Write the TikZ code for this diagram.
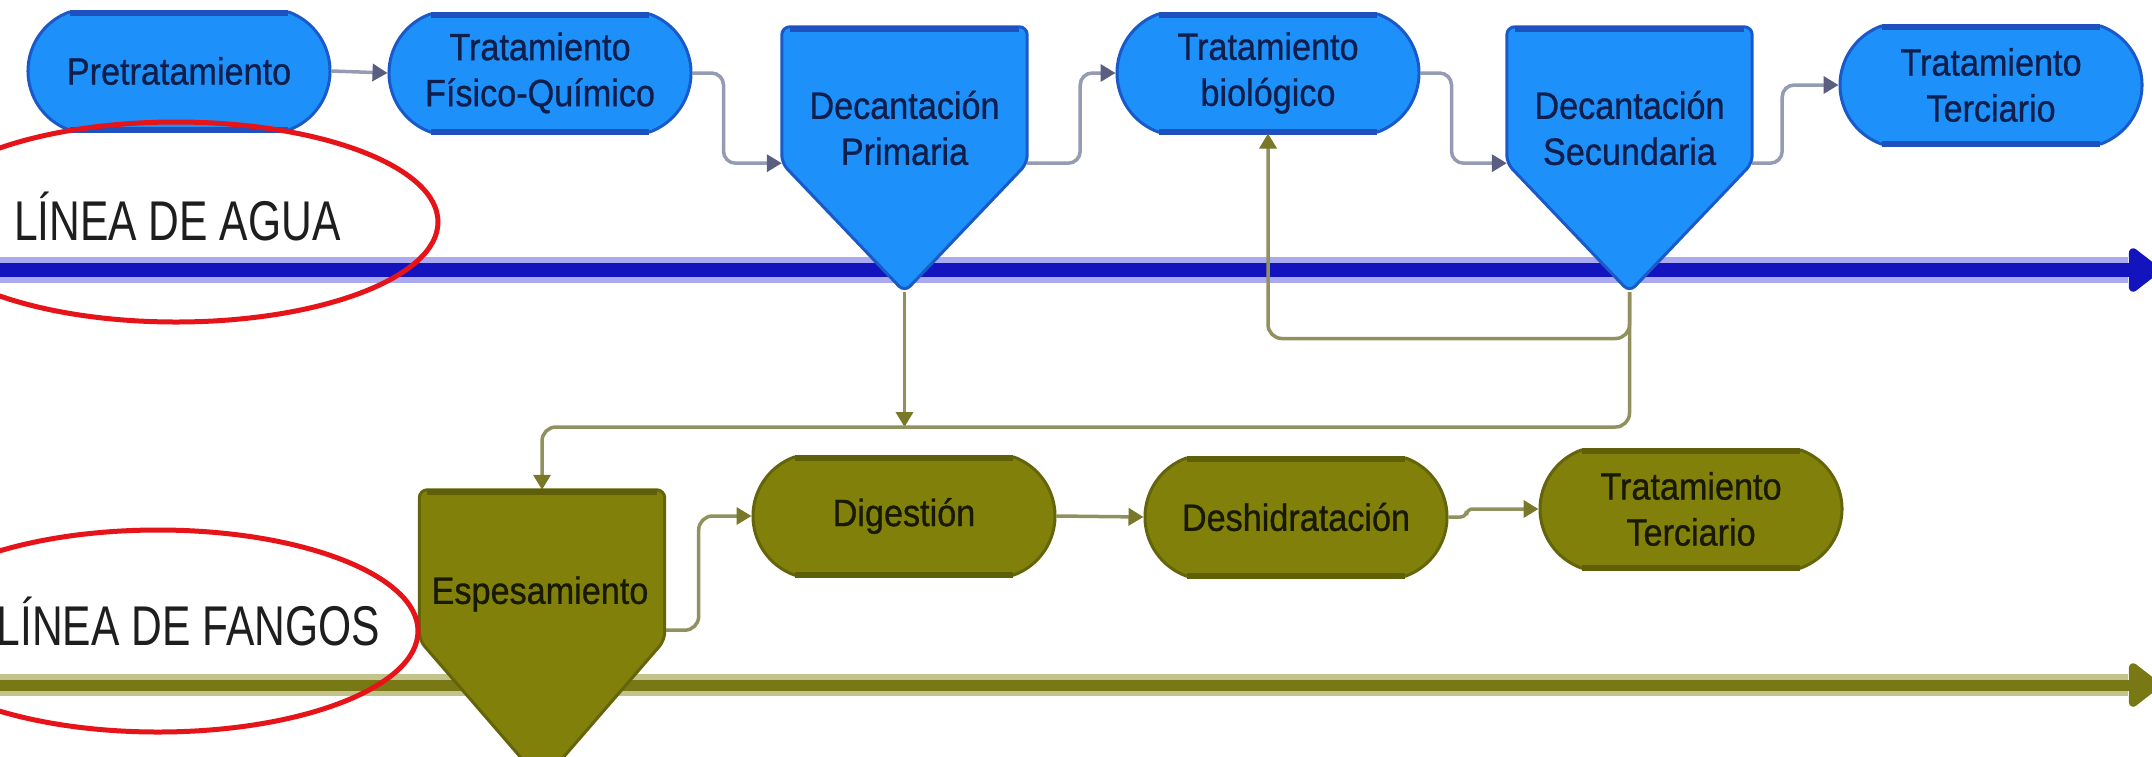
\documentclass[tikz,border=0pt]{standalone}
\usepackage{fontspec}
\usetikzlibrary{shapes.misc,arrows.meta,calc}
\newfontfamily\nodefont[FakeStretch=0.9,FakeBold=0.8]{Liberation Sans}
\newfontfamily\labfont[FakeStretch=0.76]{Liberation Sans}
\definecolor{bfill}{RGB}{30,144,250}
\definecolor{bdraw}{RGB}{25,90,200}
\definecolor{bband}{RGB}{30,80,190}
\definecolor{btext}{RGB}{15,30,75}
\definecolor{ofill}{RGB}{128,128,10}
\definecolor{odraw}{RGB}{100,100,10}
\definecolor{oband}{RGB}{95,95,10}
\definecolor{otext}{RGB}{25,25,0}
\definecolor{bconncol}{RGB}{150,155,180}
\definecolor{bhead}{RGB}{90,95,130}
\definecolor{oconncol}{RGB}{145,145,95}
\definecolor{ohead}{RGB}{120,120,40}
\definecolor{bline}{RGB}{20,20,190}
\definecolor{bhalo}{RGB}{170,170,240}
\definecolor{oline}{RGB}{120,120,20}
\definecolor{ohalo}{RGB}{195,195,140}
\definecolor{redring}{RGB}{230,20,25}
\definecolor{labtext}{RGB}{30,30,30}
\begin{document}
\begin{tikzpicture}[x=1pt,y=-1pt,
  proc/.style={rounded rectangle, rounded rectangle arc length=140, minimum width=302pt, minimum height=118pt, line width=3pt, inner sep=0pt, align=center, font=\nodefont\fontsize{38}{46}\selectfont},
  bproc/.style={proc, fill=bfill, draw=bdraw, text=btext},
  oproc/.style={proc, fill=ofill, draw=odraw, text=otext},
  pentbox/.style={rectangle, minimum width=245pt, inner sep=0pt},
  bshape/.style={fill=bfill, draw=bdraw, line width=3pt, rounded corners=8pt},
  oshape/.style={fill=ofill, draw=odraw, line width=3pt, rounded corners=8pt},
  btxt/.style={align=center, inner sep=0pt, text=btext, font=\nodefont\fontsize{38}{46}\selectfont},
  otxt/.style={align=center, inner sep=0pt, text=otext, font=\nodefont\fontsize{38}{46}\selectfont},
  bconn/.style={draw=bconncol, line width=3.5pt, rounded corners=12pt, -{Triangle[length=15pt,width=17pt,color=bhead]}},
  oconn/.style={draw=oconncol, line width=3.5pt, rounded corners=14pt, -{Triangle[length=15pt,width=17pt,color=ohead]}},
  lab/.style={inner sep=0pt, text=labtext, font=\labfont\fontsize{56}{60}\selectfont},
  ring/.style={draw=redring, line width=5pt}
]
\useasboundingbox (0,0) rectangle (2152,756);
\clip (0,0) rectangle (2152,756);
\fill[white] (0,0) rectangle (2152,756);

% main lines
\coordinate (aguaL) at (-5,270);
\coordinate (aguaH) at (2128,270);
\coordinate (aguaR) at (2160,270);
\coordinate (fangL) at (-5,685);
\coordinate (fangH) at (2128,685);
\coordinate (fangR) at (2160,685);
\draw[line width=26pt, bhalo] (aguaL) -- (aguaH);
\draw[line width=14pt, bline, -{Triangle[length=34pt,width=50pt,round]}] (aguaL) -- (aguaR);
\draw[line width=22pt, ohalo] (fangL) -- (fangH);
\draw[line width=11pt, oline, -{Triangle[length=34pt,width=50pt,round]}] (fangL) -- (fangR);

% upper row nodes
\node[bproc] (pre) at (179,71) {Pretratamiento};
\node[bproc] (fq) at (540,73) {Tratamiento\\Físico-Químico};
\node[bproc] (tb) at (1268,73) {Tratamiento\\biológico};
\node[bproc] (tt1) at (1991,85) {Tratamiento\\Terciario};
\foreach \n in {pre,fq,tb,tt1}{
  \draw[bband, line width=6pt] ($(\n.north)+(-109,2)$) -- ($(\n.north)+(109,2)$);
  \draw[bband, line width=6pt] ($(\n.south)+(-109,-2)$) -- ($(\n.south)+(109,-2)$);
}

\node[pentbox, minimum height=136pt] (dp) at (904.5,95) {};
\coordinate (dpapex) at (904.5,292);
\node[pentbox, minimum height=136pt] (ds) at (1629.5,95) {};
\coordinate (dsapex) at (1629.5,292);

% lower row nodes
\node[oproc] (dig) at (904,516) {Digestión};
\node[oproc] (desh) at (1296,517) {Deshidratación};
\node[oproc] (tt2) at (1691,509) {Tratamiento\\Terciario};
\foreach \n in {dig,desh,tt2}{
  \draw[oband, line width=6pt] ($(\n.north)+(-109,2)$) -- ($(\n.north)+(109,2)$);
  \draw[oband, line width=6pt] ($(\n.south)+(-109,-2)$) -- ($(\n.south)+(109,-2)$);
}
\node[pentbox, minimum height=150pt] (es) at (542,565) {};
\coordinate (esapex) at (542,782);

% connectors upper
\coordinate (bus) at (0,427);
\path (tb.south) ++(0,205) coordinate (rb);
\coordinate (esout) at ($(es.south east)+(0,-10)$);
\draw[bconn] (pre.east) -- (fq.west);
\draw[bconn] (fq.east) -- ++(31,0) |- (dp.south west);
\draw[bconn] (dp.south east) -- ++(53,0) |- (tb.west);
\draw[bconn] (tb.east) -- ++(31,0) |- (ds.south west);
\draw[bconn] (ds.south east) -- ++(30,0) |- (tt1.west);

% connectors lower
\draw[oconn] (dpapex) -- (dpapex |- bus);
\draw[oconn] (dsapex) |- (es.north |- bus) -- (es.north);
\draw[oconn] (dsapex) |- (rb) -- (tb.south);
\draw[oconn] (esout) -- ++(34,0) |- (dig.west);
\draw[oconn] (dig.east) -- (desh.west);
\draw[oconn, rounded corners=6pt] (desh.east) -- ++(18,0) |- (tt2.west);

% pentagon shapes
\filldraw[bshape] (dp.south west) -- (dp.north west) -- (dp.north east) -- (dp.south east) -- (dpapex) -- cycle;
\filldraw[bshape] (ds.south west) -- (ds.north west) -- (ds.north east) -- (ds.south east) -- (dsapex) -- cycle;
\filldraw[oshape] (es.south west) -- (es.north west) -- (es.north east) -- (es.south east) -- (esapex) -- cycle;
\draw[bband, line width=6pt] ($(dp.north west)+(8,2)$) -- ($(dp.north east)+(-8,2)$);
\draw[bband, line width=6pt] ($(ds.north west)+(8,2)$) -- ($(ds.north east)+(-8,2)$);
\draw[oband, line width=6pt] ($(es.north west)+(8,2)$) -- ($(es.north east)+(-8,2)$);
\node[btxt] (dptext) at (904.5,128) {Decantación\\Primaria};
\node[btxt] (dstext) at (1629.5,128) {Decantación\\Secundaria};
\node[otxt] (estext) at (540,594) {Espesamiento};

% labels and rings
\node[lab, anchor=base west] (agua) at (14,240) {LÍNEA DE AGUA};
\node[lab, anchor=base east] (fangos) at (380,645) {LÍNEA DE FANGOS};
\draw[ring] (176,222) ellipse [x radius=262, y radius=100];
\draw[ring] (158,631) ellipse [x radius=260, y radius=101];
\end{tikzpicture}
\end{document}
